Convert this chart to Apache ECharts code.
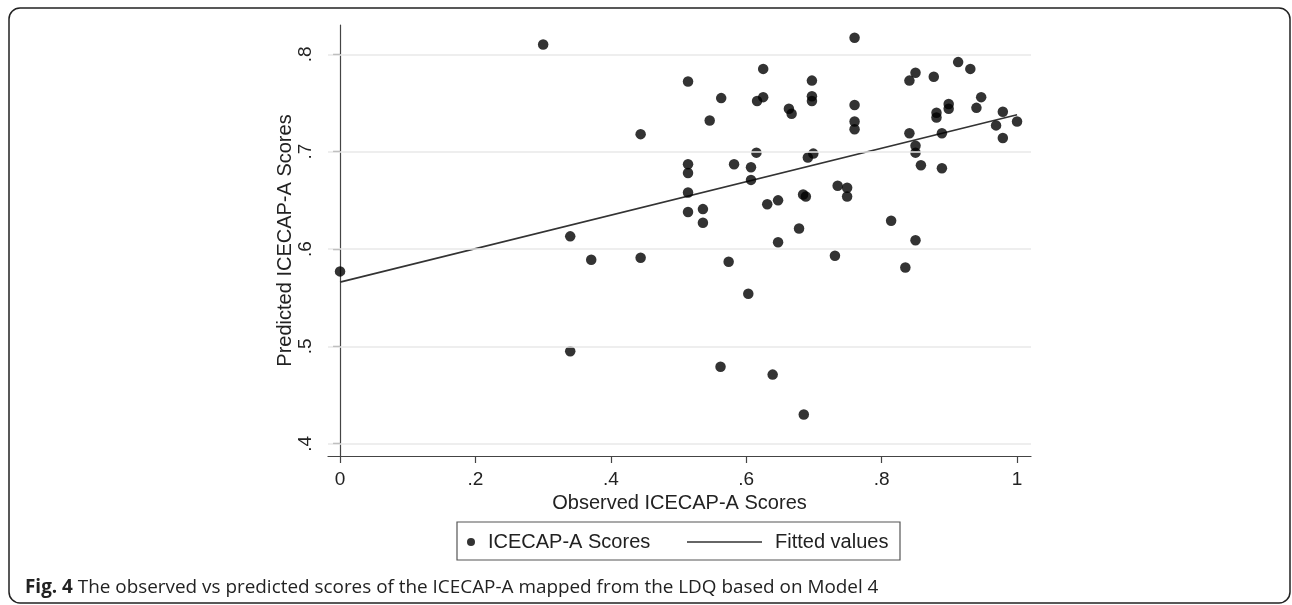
<!DOCTYPE html>
<html>
<head>
<meta charset="utf-8">
<script src="https://cdn.jsdelivr.net/npm/echarts@6/dist/echarts.min.js"></script>
<style>
html,body{margin:0;padding:0;background:#fff;}
#c{width:1292px;height:605px;}
</style>
</head>
<body>
<div id="c"></div>
<script>
// Observed ICECAP-A scores (x) and predicted scores (y)
const observed = [0.000,0.300,0.340,0.340,0.371,0.444,0.444,0.514,0.514,0.514,0.514,0.514,0.536,0.536,0.546,0.563,0.562,0.574,0.582,0.603,0.607,0.607,0.615,0.616,0.625,0.625,0.631,0.639,0.647,0.647,0.663,0.667,0.678,0.684,0.688,0.685,0.691,0.697,0.697,0.697,0.699,0.731,0.735,0.749,0.749,0.760,0.760,0.760,0.760,0.814,0.835,0.841,0.850,0.841,0.850,0.850,0.850,0.858,0.877,0.881,0.881,0.889,0.889,0.899,0.899,0.913,0.931,0.940,0.947,0.969,0.979,0.979,1.000];
const predicted = [0.577,0.810,0.613,0.495,0.589,0.718,0.591,0.772,0.687,0.678,0.658,0.638,0.641,0.627,0.732,0.755,0.479,0.587,0.687,0.554,0.684,0.671,0.699,0.752,0.756,0.785,0.646,0.471,0.650,0.607,0.744,0.739,0.621,0.656,0.654,0.430,0.694,0.773,0.757,0.752,0.698,0.593,0.665,0.663,0.654,0.817,0.748,0.731,0.723,0.629,0.581,0.773,0.781,0.719,0.706,0.699,0.609,0.686,0.777,0.740,0.735,0.719,0.683,0.749,0.744,0.792,0.785,0.745,0.756,0.727,0.741,0.714,0.731];
// Fitted values line (endpoints)
const fitX = [0, 1];
const fitY = [0.566, 0.738];
// Tick values
const xTicks = [0, 0.2, 0.4, 0.6, 0.8, 1];
const yTicks = [0.4, 0.5, 0.6, 0.7, 0.8];
const seriesNames = ['ICECAP-A Scores', 'Fitted values'];

const fmt = v => String(+(+v).toFixed(1)).replace(/^0\./, '.');
const FONT = '"Liberation Sans", Arial, sans-serif';
const chart = echarts.init(document.getElementById('c'), null, {renderer: 'canvas'});
chart.setOption({
  animation: false,
  backgroundColor: '#fff',
  grid: {left: 328, right: 261, top: 25, bottom: 149, containLabel: false, outerBoundsMode: 'none'},
  xAxis: {
    type: 'value', min: -0.0178, max: 1.0206,
    name: 'Observed ICECAP-A Scores', nameLocation: 'middle', nameGap: 32,
    nameTextStyle: {fontFamily: FONT, fontSize: 20, color: '#222'},
    axisLine: {show: true, lineStyle: {color: '#444', width: 1.2}},
    axisTick: {show: true, customValues: xTicks, length: 7, lineStyle: {color: '#444', width: 1.2}},
    axisLabel: {customValues: xTicks, formatter: fmt, fontFamily: FONT, fontSize: 19, color: '#222', margin: 14},
    splitLine: {show: false}
  },
  yAxis: {
    type: 'value', min: 0.3874, max: 0.8301,
    name: 'Predicted ICECAP-A Scores', nameLocation: 'middle', nameGap: 33, nameMoveOverlap: false,
    nameTextStyle: {fontFamily: FONT, fontSize: 20, color: '#222'},
    axisLine: {show: true, lineStyle: {color: '#444', width: 1.2}},
    axisTick: {show: true, customValues: yTicks, length: 7, lineStyle: {color: '#444', width: 1.2}},
    axisLabel: {customValues: yTicks, formatter: fmt, rotate: 90, fontFamily: FONT, fontSize: 19, color: '#222', margin: 13},
    splitLine: {show: false}
  },
  legend: [
    {
      data: [{name: seriesNames[0], icon: 'circle'}],
      left: 467, top: 532, itemWidth: 8, itemHeight: 8, padding: 0,
      textStyle: {fontFamily: FONT, fontSize: 20, color: '#222', padding: [0, 0, 0, 8]}
    },
    {
      data: [{name: seriesNames[1], icon: 'rect'}],
      left: 687, top: 532, itemWidth: 75, itemHeight: 1.6, padding: 0,
      itemStyle: {color: '#333'},
      textStyle: {fontFamily: FONT, fontSize: 20, color: '#222', padding: [0, 0, 0, 8]}
    }
  ],
  graphic: [
    {type: 'rect', shape: {x: 9, y: 8, width: 1281, height: 595, r: 11}, style: {fill: null, stroke: '#222', lineWidth: 1.5}, silent: true},
    {type: 'rect', shape: {x: 457, y: 522, width: 443, height: 38}, style: {fill: null, stroke: '#555', lineWidth: 1.2}, silent: true},
    {type: 'text', left: 25, top: 578, style: {
      text: '{b|Fig. 4} The observed vs predicted scores of the ICECAP-A mapped from the LDQ based on Model 4',
      font: '18.9px "Open Sans"', fill: '#222',
      rich: {b: {fontFamily: 'Open Sans', fontWeight: 'bold', fontSize: 18.9, fill: '#222'}}
    }}
  ],
  series: [
    {
      name: seriesNames[1], type: 'line', z: 2,
      data: fitX.map((x, i) => [x, fitY[i]]),
      symbol: 'none', lineStyle: {color: '#333', width: 1.6}, itemStyle: {color: '#333'},
      markLine: {
        silent: true, symbol: 'none', label: {show: false}, animation: false,
        lineStyle: {color: '#e8e8e8', width: 1.5, type: 'solid'},
        data: yTicks.map(v => ({yAxis: v}))
      }
    },
    {
      name: seriesNames[0], type: 'scatter', z: 3,
      data: observed.map((x, i) => [x, predicted[i]]),
      symbol: 'circle', symbolSize: 10.5, itemStyle: {color: '#000'}
    }
  ]
});
</script>
</body>
</html>
